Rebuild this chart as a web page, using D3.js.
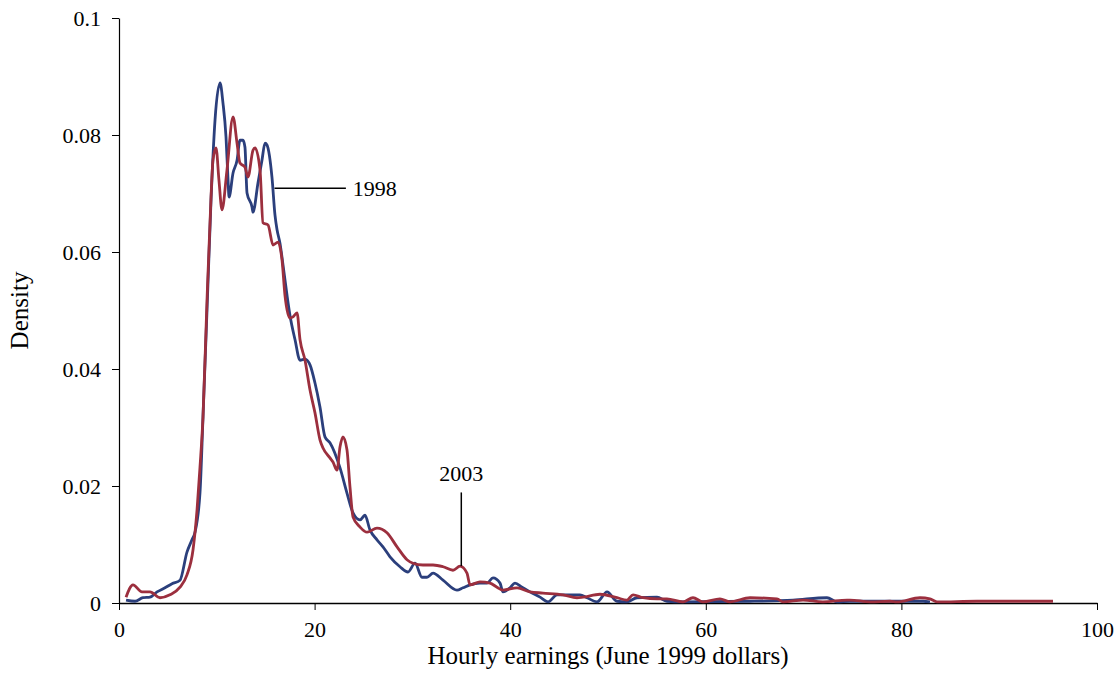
<!DOCTYPE html>
<html>
<head>
<meta charset="utf-8">
<script src="https://cdn.jsdelivr.net/npm/d3@7"></script>
<style>
  body { margin: 0; background: #fff; }
  text { font-family: "Liberation Serif", "Times New Roman", serif; }
</style>
</head>
<body>
<svg width="1117" height="696"></svg>
<script>
// hourly earnings (x) for each density estimate
var x1998 = [0.72, 1.64, 2.45, 3.17, 3.89, 4.70, 5.42, 6.24, 6.95, 7.46, 7.77, 8.28, 8.59, 9.0, 9.41, 9.82,
  10.33, 10.63, 10.94, 11.15, 11.25, 11.66, 12.07, 12.37, 12.68, 12.88, 13.09, 13.60, 13.70, 14.21, 14.62,
  14.93, 15.13, 15.64, 15.95, 16.16, 16.46, 16.77, 17.18, 17.48, 18.0, 18.51, 19.02, 19.53, 20.04, 20.55,
  21.06, 21.57, 22.60, 23.31, 23.93, 24.64, 25.15, 25.66, 26.38, 26.99, 27.71, 28.73, 29.55, 30.27, 30.98,
  31.49, 32.11, 33.13, 34.56, 35.17, 35.89, 36.91, 37.63, 38.24, 38.96, 39.26, 39.98, 40.49, 41.21, 42.02,
  43.05, 43.87, 44.79, 45.40, 46.42, 47.14, 47.85, 48.88, 49.90, 50.92, 51.94, 52.97, 55.01, 56.03, 57.67,
  64.52, 68.92, 72.39, 73.42, 74.74, 76.48, 82.21, 82.92];
var d1998 = [0.0005, 0.0003, 0.0009, 0.0010, 0.0019, 0.0026, 0.0033, 0.0039, 0.0087, 0.0108, 0.0121, 0.0188,
  0.0318, 0.0501, 0.0689, 0.0826, 0.0889, 0.0855, 0.0797, 0.0723, 0.0694, 0.0735, 0.0757, 0.0791, 0.0791,
  0.0779, 0.0701, 0.0677, 0.0668, 0.0718, 0.0757, 0.0786, 0.0783, 0.0728, 0.0663, 0.0638, 0.0615, 0.0578,
  0.0526, 0.0492, 0.0450, 0.0415, 0.0417, 0.0407, 0.0376, 0.0335, 0.0284, 0.0274, 0.0231, 0.0188, 0.0154,
  0.0142, 0.0150, 0.0125, 0.0108, 0.0096, 0.0079, 0.0062, 0.0053, 0.0068, 0.0044, 0.0044, 0.0051, 0.0039,
  0.0022, 0.0026, 0.0031, 0.0034, 0.0034, 0.0043, 0.0034, 0.0019, 0.0026, 0.0034, 0.0027, 0.0019, 0.0010,
  0.0002, 0.0014, 0.0014, 0.0014, 0.0014, 0.0009, 0.0002, 0.0019, 0.0003, 0.0002, 0.0009, 0.0010, 0.0003,
  0.0002, 0.0003, 0.0005, 0.0009, 0.0002, 0.0003, 0.0003, 0.0003, 0.0002];

var x2003 = [0.72, 1.43, 2.35, 3.17, 4.19, 5.21, 6.24, 6.95, 7.57, 7.98, 8.28, 8.59, 9.0, 9.41, 9.61, 9.92,
  10.22, 10.53, 11.04, 11.66, 12.07, 12.37, 12.88, 13.19, 13.70, 13.91, 14.42, 14.72, 15.24, 15.75, 16.26,
  16.67, 16.97, 17.48, 17.79, 18.20, 18.51, 19.02, 19.53, 20.04, 20.55, 20.86, 21.57, 21.88, 22.29, 22.60,
  22.90, 23.31, 23.62, 23.93, 24.64, 25.36, 26.38, 27.40, 28.43, 29.45, 30.06, 31.08, 32.11, 33.13, 34.15,
  34.87, 35.58, 35.89, 36.91, 37.93, 38.65, 39.26, 40.70, 42.02, 43.35, 45.40, 46.83, 47.44, 49.18, 50.92,
  51.94, 52.56, 53.58, 55.01, 56.03, 57.67, 58.69, 59.71, 61.45, 62.47, 64.52, 67.28, 67.89, 69.94, 71.98,
  74.44, 74.74, 76.79, 78.83, 79.55, 81.90, 82.92, 83.64, 87.73, 90.80, 95.19, 95.5];
var d2003 = [0.0010, 0.0031, 0.0019, 0.0019, 0.0009, 0.0014, 0.0027, 0.0048, 0.0091, 0.0159, 0.0232, 0.0318,
  0.0518, 0.0694, 0.0757, 0.0778, 0.0723, 0.0672, 0.0740, 0.0831, 0.0786, 0.0752, 0.0745, 0.0728, 0.0774,
  0.0778, 0.0740, 0.0650, 0.0646, 0.0612, 0.0617, 0.0586, 0.0526, 0.0487, 0.0489, 0.0496, 0.0450, 0.0415,
  0.0364, 0.0325, 0.0279, 0.0265, 0.0248, 0.0241, 0.0227, 0.0267, 0.0284, 0.0262, 0.0198, 0.0147, 0.0130,
  0.0121, 0.0128, 0.0120, 0.0096, 0.0074, 0.0068, 0.0065, 0.0065, 0.0062, 0.0056, 0.0063, 0.0051, 0.0031,
  0.0036, 0.0034, 0.0027, 0.0022, 0.0026, 0.0019, 0.0017, 0.0014, 0.0009, 0.0010, 0.0015, 0.0009, 0.0005,
  0.0014, 0.0009, 0.0007, 0.0007, 0.0002, 0.0009, 0.0002, 0.0007, 0.0002, 0.0009, 0.0007, 0.0002, 0.0005,
  0.0002, 0.0005, 0.0005, 0.0002, 0.0003, 0.0002, 0.0009, 0.0007, 0.0002, 0.0003, 0.0003, 0.0003, 0.0003];

var xTicks = [0, 20, 40, 60, 80, 100];
var yTicks = [0, 0.02, 0.04, 0.06, 0.08, 0.1];

var svg = d3.select("svg"),
    margin = {top: 18, right: 20, bottom: 93, left: 119},
    width = +svg.attr("width") - margin.left - margin.right,
    height = +svg.attr("height") - margin.top - margin.bottom,
    g = svg.append("g").attr("transform", "translate(" + margin.left + "," + margin.top + ")");

var x = d3.scaleLinear().domain([0, 100]).range([0, 978]);
var y = d3.scaleLinear().domain([0, 0.1]).range([height, 0]);

var line = d3.line()
    .x(function (d) { return x(d[0]); })
    .y(function (d) { return y(d[1]); })
    .curve(d3.curveMonotoneX);

var s1998 = d3.zip(x1998, d1998),
    s2003 = d3.zip(x2003, d2003);

// x axis
g.append("g")
    .attr("transform", "translate(0," + height + ")")
    .call(d3.axisBottom(x).tickValues(xTicks).tickSize(7).tickSizeOuter(0).tickPadding(11))
    .call(function (a) {
      a.select(".domain").attr("stroke", "#000").attr("stroke-width", 1.5);
      a.selectAll("text").attr("font-size", 22).attr("fill", "#000")
        .attr("font-family", "Liberation Serif");
    });

// y axis
g.append("g")
    .call(d3.axisLeft(y).tickValues(yTicks).tickSize(7).tickSizeOuter(0).tickPadding(11)
      .tickFormat(function (d) { return d === 0 ? "0" : String(+d.toFixed(2)); }))
    .call(function (a) {
      a.select(".domain").attr("stroke", "#000").attr("stroke-width", 1.2);
      a.selectAll("text").attr("font-size", 22).attr("fill", "#000")
        .attr("font-family", "Liberation Serif");
    });

g.append("path")
    .attr("d", line(s1998))
    .attr("fill", "none")
    .attr("stroke", "#2b3f7c")
    .attr("stroke-width", 2.8);

g.append("path")
    .attr("d", line(s2003))
    .attr("fill", "none")
    .attr("stroke", "#9c2f3e")
    .attr("stroke-width", 2.8);

// annotations
g.append("line")
    .attr("x1", x(15.9)).attr("x2", x(23.2))
    .attr("y1", y(0.0709)).attr("y2", y(0.0709))
    .attr("stroke", "#000").attr("stroke-width", 1.5);
g.append("text")
    .attr("x", x(23.9)).attr("y", y(0.0709)).attr("dy", "0.35em")
    .attr("font-size", 22).text("1998");

g.append("line")
    .attr("x1", x(35.0)).attr("x2", x(35.0))
    .attr("y1", y(0.0189)).attr("y2", y(0.0063))
    .attr("stroke", "#000").attr("stroke-width", 1.5);
g.append("text")
    .attr("x", x(35.0)).attr("y", y(0.0208))
    .attr("text-anchor", "middle")
    .attr("font-size", 22).text("2003");

// axis titles
svg.append("text")
    .attr("x", margin.left + x(50)).attr("y", 664)
    .attr("text-anchor", "middle")
    .attr("font-size", 25).text("Hourly earnings (June 1999 dollars)");

svg.append("text")
    .attr("transform", "translate(28," + (margin.top + y(0.05)) + ")rotate(-90)")
    .attr("text-anchor", "middle")
    .attr("font-size", 25).text("Density");
</script>
</body>
</html>
